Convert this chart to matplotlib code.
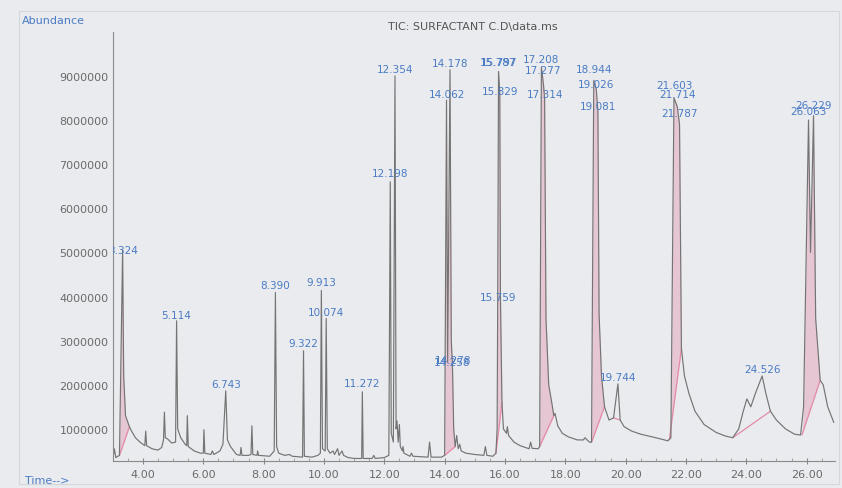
import numpy as np
import matplotlib
matplotlib.use("Agg")
import matplotlib.pyplot as plt
from matplotlib.patches import Rectangle
from matplotlib.ticker import MultipleLocator, FixedLocator

# TIC trace (time in min, abundance in millions)
time_min = [
    3.00, 3.05, 3.10, 3.22, 3.324, 3.36, 3.42, 3.55, 3.62, 3.75, 3.90, 4.00, 4.06, 4.09, 4.12,
    4.30, 4.50, 4.62, 4.68, 4.71, 4.74, 4.80, 4.85, 4.95, 5.08, 5.114, 5.15, 5.25, 5.40, 5.45,
    5.47, 5.50, 5.70, 5.90, 6.00, 6.02, 6.05, 6.25, 6.30, 6.35, 6.55, 6.65, 6.743, 6.80, 6.90,
    7.10, 7.22, 7.25, 7.28, 7.50, 7.58, 7.61, 7.64, 7.78, 7.80, 7.83, 8.20, 8.35, 8.39, 8.43,
    8.50, 8.70, 8.85, 8.95, 9.29, 9.322, 9.35, 9.60, 9.80, 9.88, 9.913, 9.95, 10.04, 10.074, 10.11,
    10.20, 10.30, 10.35, 10.45, 10.50, 10.60, 10.65, 10.80, 11.00, 11.25, 11.272, 11.30, 11.60, 11.65, 11.70,
    12.00, 12.15, 12.198, 12.23, 12.30, 12.354, 12.39, 12.42, 12.46, 12.50, 12.53, 12.60, 12.62, 12.65, 12.85,
    12.90, 12.95, 13.45, 13.50, 13.55, 13.90, 14.00, 14.062, 14.10, 14.178, 14.22, 14.258, 14.30, 14.35, 14.40,
    14.45, 14.50, 14.55, 14.70, 15.00, 15.30, 15.35, 15.40, 15.60, 15.70, 15.74, 15.759, 15.787, 15.829, 15.85,
    15.90, 15.95, 16.05, 16.08, 16.12, 16.30, 16.50, 16.80, 16.85, 16.90, 17.10, 17.15, 17.208, 17.277, 17.314,
    17.36, 17.45, 17.55, 17.62, 17.66, 17.75, 17.90, 18.10, 18.40, 18.60, 18.65, 18.80, 18.87, 18.944, 19.026,
    19.081, 19.12, 19.20, 19.30, 19.45, 19.60, 19.744, 19.82, 19.95, 20.20, 20.50, 21.00, 21.40, 21.50, 21.603,
    21.714, 21.787, 21.85, 21.95, 22.10, 22.30, 22.60, 23.00, 23.30, 23.55, 23.75, 23.90, 24.02, 24.15, 24.30,
    24.526, 24.65, 24.80, 25.00, 25.30, 25.60, 25.80, 25.90, 26.063, 26.13, 26.229, 26.30, 26.45, 26.55, 26.70,
    26.90,
]
abundance_m = [
    0.30, 0.55, 0.35, 0.40, 5.05, 2.20, 1.30, 1.05, 0.95, 0.80, 0.70, 0.65, 0.62, 0.95, 0.62,
    0.55, 0.52, 0.58, 0.75, 1.38, 0.80, 0.78, 0.75, 0.68, 0.70, 3.45, 1.00, 0.80, 0.65, 0.62,
    1.30, 0.60, 0.50, 0.45, 0.45, 0.98, 0.45, 0.42, 0.50, 0.42, 0.50, 0.65, 1.86, 0.75, 0.60,
    0.42, 0.40, 0.58, 0.40, 0.40, 0.42, 1.07, 0.42, 0.40, 0.50, 0.40, 0.38, 0.50, 4.09, 0.60,
    0.45, 0.40, 0.42, 0.38, 0.36, 2.77, 0.38, 0.36, 0.40, 0.45, 4.14, 0.55, 0.50, 3.50, 0.55,
    0.45, 0.50, 0.42, 0.55, 0.40, 0.50, 0.40, 0.35, 0.33, 0.33, 1.84, 0.33, 0.33, 0.40, 0.33,
    0.35, 0.40, 6.60, 0.90, 0.70, 9.00, 1.00, 1.18, 0.70, 1.10, 0.60, 0.50, 0.60, 0.45, 0.38,
    0.45, 0.38, 0.36, 0.70, 0.36, 0.36, 0.40, 8.45, 2.50, 9.14, 3.00, 2.48, 1.00, 0.60, 0.85,
    0.55, 0.65, 0.50, 0.45, 0.42, 0.40, 0.60, 0.40, 0.38, 0.45, 1.00, 3.80, 9.10, 8.60, 4.00,
    1.60, 1.00, 0.90, 1.05, 0.85, 0.70, 0.62, 0.55, 0.70, 0.56, 0.55, 0.60, 9.20, 8.80, 8.50,
    3.50, 2.00, 1.60, 1.30, 1.35, 1.07, 0.90, 0.82, 0.75, 0.75, 0.80, 0.70, 0.70, 8.90, 8.70,
    8.20, 3.60, 2.20, 1.50, 1.20, 1.25, 2.02, 1.20, 1.05, 0.95, 0.88, 0.80, 0.73, 0.80, 8.50,
    8.30, 7.90, 2.82, 2.20, 1.80, 1.40, 1.10, 0.92, 0.84, 0.80, 1.00, 1.40, 1.68, 1.50, 1.80,
    2.20, 1.80, 1.40, 1.20, 1.00, 0.88, 0.86, 1.50, 8.00, 5.00, 8.10, 3.50, 2.10, 2.00, 1.50,
    1.15,
]

# integration windows (start/end time, baseline abundance at each end, shaded or not)
integ_t0 = [3.22, 14.00, 15.70, 17.15, 18.87, 19.60, 21.45, 23.55, 25.85]
integ_y0 = [0.40, 0.40, 0.45, 0.60, 0.70, 1.25, 0.76, 0.80, 0.87]
integ_t1 = [3.55, 14.35, 15.90, 17.62, 19.30, 19.82, 21.85, 24.80, 26.45]
integ_y1 = [1.05, 0.60, 1.60, 1.30, 1.50, 1.20, 2.82, 1.40, 2.10]
integ_shaded = [True, True, True, True, True, False, True, False, True]

# peak labels (retention time, text height in millions)
label_txt = ["3.324", "5.114", "6.743", "8.390", "9.322", "9.913", "10.074", "11.272",
             "12.198", "12.354", "14.062", "14.178", "14.278", "14.258", "15.787", "15.797",
             "15.829", "15.759", "17.208", "17.277", "17.314", "18.944", "19.026", "19.081",
             "19.744", "21.603", "21.714", "21.787", "24.526", "26.229", "26.063"]
label_t = [3.324, 5.114, 6.743, 8.390, 9.322, 9.913, 10.074, 11.272,
           12.198, 12.354, 14.062, 14.178, 14.278, 14.258, 15.787, 15.797,
           15.829, 15.759, 17.208, 17.277, 17.314, 18.944, 19.026, 19.081,
           19.744, 21.603, 21.714, 21.787, 24.526, 26.229, 26.063]
label_y = [5.05, 3.59, 2.02, 4.27, 2.95, 4.34, 3.66, 2.05,
           6.80, 9.16, 8.59, 9.30, 2.57, 2.52, 9.32, 9.32,
           8.66, 4.00, 9.39, 9.14, 8.59, 9.16, 8.82, 8.32,
           2.18, 8.80, 8.59, 8.16, 2.36, 8.34, 8.20]

x_ticks = [4, 6, 8, 10, 12, 14, 16, 18, 20, 22, 24, 26]
y_ticks = [1e6, 2e6, 3e6, 4e6, 5e6, 6e6, 7e6, 8e6, 9e6]

BG = "#e9ebee"
GREY = "#747474"
BLUE = "#4a7bc4"
PINK = "#e58aa8"

t = np.array(time_min)
y = np.array(abundance_m) * 1e6

fig = plt.figure(figsize=(8.42, 4.89), dpi=100, facecolor=BG)
ax = fig.add_axes([0.134, 0.055, 0.858, 0.878], facecolor=BG)

# pink integration areas / baselines under the peaks
for t0, y0, t1, y1, shade in zip(integ_t0, integ_y0, integ_t1, integ_y1, integ_shaded):
    if shade:
        m = (t >= t0) & (t <= t1)
        tt = np.concatenate([[t0], t[m], [t1]])
        yy = np.concatenate([[y0 * 1e6], y[m], [y1 * 1e6]])
        base = np.interp(tt, [t0, t1], [y0 * 1e6, y1 * 1e6])
        ax.fill_between(tt, base, yy, color=PINK, alpha=0.38, lw=0)
    ax.plot([t0, t1], [y0 * 1e6, y1 * 1e6], color=PINK, lw=0.9)

ax.plot(t, y, color=GREY, lw=0.85)

for s, lt, ly in zip(label_txt, label_t, label_y):
    ax.text(lt, ly * 1e6, s, color=BLUE, fontsize=7.5, ha="center", va="center",
            clip_on=True, zorder=5)

ax.set_xlim(3.0, 26.95)
ax.set_ylim(0.27e6, 10.0e6)
ax.xaxis.set_major_locator(FixedLocator(x_ticks))
ax.xaxis.set_minor_locator(MultipleLocator(0.5))
ax.set_xticklabels([f"{v:.2f}" for v in x_ticks])
ax.yaxis.set_major_locator(FixedLocator(y_ticks))
ax.set_yticklabels([f"{int(v)}" for v in y_ticks])
ax.tick_params(axis="y", length=0, pad=3, labelsize=8, labelcolor="#6a6a6a")
ax.tick_params(axis="x", which="major", length=4, direction="inout", color="#888888",
               labelsize=8, labelcolor="#6a6a6a", pad=4)
ax.tick_params(axis="x", which="minor", length=2.5, direction="in", color="#999999")
for side in ("top", "right"):
    ax.spines[side].set_visible(False)
for side in ("left", "bottom"):
    ax.spines[side].set_color("#8a8a8a")
    ax.spines[side].set_linewidth(0.8)

fig.text(0.562, 0.945, "TIC: SURFACTANT C.D\\data.ms", ha="center", va="center",
         fontsize=8, color="#555555")
fig.text(0.026, 0.958, "Abundance", ha="left", va="center", fontsize=8, color=BLUE)
fig.text(0.030, 0.016, "Time-->", ha="left", va="center", fontsize=8, color=BLUE)

# faint printed frame
fig.patches.append(Rectangle((0.022, 0.008), 0.974, 0.968, transform=fig.transFigure,
                             fill=False, edgecolor="#d4d7db", lw=0.8))

fig.savefig("out.png", dpi=100, facecolor=BG)
